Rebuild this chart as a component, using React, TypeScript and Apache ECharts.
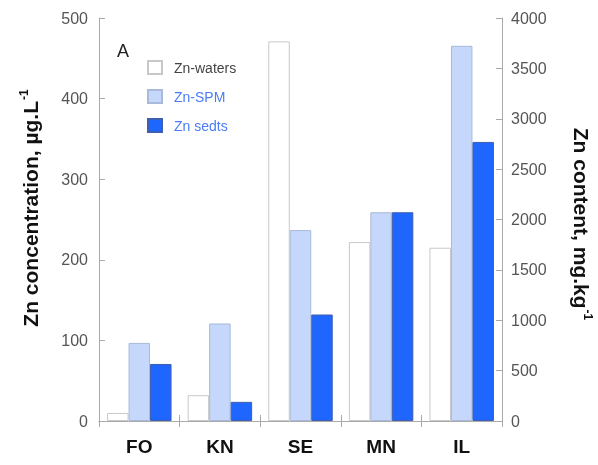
import React, { useEffect, useRef } from "react";
import * as echarts from "echarts";

const categories = ["FO", "KN", "SE", "MN", "IL"];
const znWaters = [10, 32, 471, 222, 215];
const znSPM = [775, 968, 1895, 2072, 3724];
const znSedts = [566, 190, 1057, 2072, 2770];
const leftTicks = [0, 100, 200, 300, 400, 500];
const rightTicks = [0, 500, 1000, 1500, 2000, 2500, 3000, 3500, 4000];

const FONT = "Liberation Sans, Arial, sans-serif";

export default function App() {
  const ref = useRef<HTMLDivElement>(null);
  useEffect(() => {
    if (!ref.current) return;
    const chart = echarts.init(ref.current, null, { renderer: "svg" });
    const axisLine = { show: true, lineStyle: { color: "#aaa", width: 1 } };
    const tick = { show: true, inside: true, length: 6, lineStyle: { color: "#aaa" } };
    const nameRich = {
      b: { fontSize: 21, fontWeight: "bold", fill: "#111", fontFamily: FONT },
      s: { fontSize: 12, fontWeight: "bold", fill: "#111", fontFamily: FONT, padding: [0, 0, 13, 1] },
    };
    chart.setOption({
      animation: false,
      textStyle: { fontFamily: FONT },
      grid: { left: 99, right: 96, top: 18, bottom: 44 },
      legend: {
        orient: "vertical",
        left: 142,
        top: 55,
        itemWidth: 14,
        itemHeight: 13,
        itemGap: 14,
        icon: "rect",
        selectedMode: false,
        textStyle: { fontSize: 14, fontFamily: FONT, padding: [0, 0, 0, 7] },
        data: [
          { name: "Zn-waters", textStyle: { color: "#444" } },
          { name: "Zn-SPM", textStyle: { color: "#4a7cf6" } },
          { name: "Zn sedts", textStyle: { color: "#4a7cf6" } },
        ],
      },
      graphic: [
        {
          type: "text",
          left: 117,
          top: 42,
          style: { text: "A", fontSize: 18, fill: "#222", fontFamily: FONT },
        },
        {
          type: "text",
          x: 30,
          y: 208,
          rotation: Math.PI / 2,
          style: {
            text: "{b|Zn concentration, µg.L}{s|-1}",
            rich: nameRich,
            align: "center",
            verticalAlign: "middle",
          },
        },
        {
          type: "text",
          x: 581,
          y: 224,
          rotation: -Math.PI / 2,
          style: {
            text: "{b|Zn content, mg.kg}{s|-1}",
            rich: nameRich,
            align: "center",
            verticalAlign: "middle",
          },
        },
      ],
      xAxis: [
        {
          type: "category",
          data: categories,
          position: "bottom",
          axisLine,
          axisTick: tick,
          axisLabel: { fontSize: 19, fontWeight: "bold", color: "#111", margin: 16, fontFamily: FONT },
        },
        {
          type: "category",
          data: categories,
          position: "top",
          axisLine,
          axisTick: tick,
          axisLabel: { show: false },
        },
      ],
      yAxis: [
        {
          type: "value",
          min: 0,
          max: 500,
          interval: 100,
          position: "left",
          axisLine,
          axisTick: tick,
          splitLine: { show: false },
          axisLabel: {
            fontSize: 16,
            color: "#555",
            margin: 11,
            fontFamily: FONT,
            formatter: (v: number) => (leftTicks.includes(v) ? String(v) : ""),
          },
        },
        {
          type: "value",
          min: 0,
          max: 4000,
          interval: 500,
          position: "right",
          axisLine,
          axisTick: tick,
          splitLine: { show: false },
          axisLabel: {
            fontSize: 16,
            color: "#555",
            margin: 9,
            fontFamily: FONT,
            formatter: (v: number) => (rightTicks.includes(v) ? String(v) : ""),
          },
        },
      ],
      series: [
        {
          name: "Zn-waters",
          type: "bar",
          yAxisIndex: 0,
          data: znWaters,
          barGap: "0%",
          barCategoryGap: "20%",
          itemStyle: { color: "#ffffff", borderColor: "#c8c8c8", borderWidth: 1 },
        },
        {
          name: "Zn-SPM",
          type: "bar",
          yAxisIndex: 1,
          data: znSPM,
          barGap: "0%",
          barCategoryGap: "20%",
          itemStyle: { color: "#c5d8fb", borderColor: "#a9b9d9", borderWidth: 1 },
        },
        {
          name: "Zn sedts",
          type: "bar",
          yAxisIndex: 1,
          data: znSedts,
          barGap: "0%",
          barCategoryGap: "20%",
          itemStyle: { color: "#1f66ff", borderColor: "#3f5fb0", borderWidth: 1 },
        },
      ],
    });
    return () => chart.dispose();
  }, []);
  return <div ref={ref} style={{ position: "fixed", left: 0, top: 0, width: 598, height: 465 }} />;
}
